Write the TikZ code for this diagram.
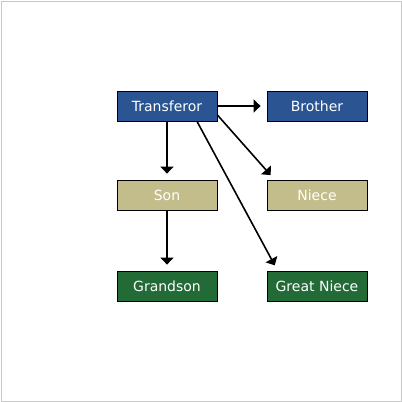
\documentclass[tikz,border=0pt]{standalone}
\usepackage{fontspec}
\setmainfont{DejaVu Sans}
\usetikzlibrary{arrows.meta}
\definecolor{bblue}{HTML}{2A5592}
\definecolor{btan}{HTML}{C3BD8B}
\definecolor{bgreen}{HTML}{226B36}
\definecolor{framegray}{HTML}{C8C8C8}
\begin{document}
\begin{tikzpicture}[x=1pt,y=-1pt,
  box/.style={draw=black,line width=0.8pt,minimum width=100pt,minimum height=30pt,inner sep=0pt,text=white,font=\fontsize{14}{16}\selectfont},
  conn/.style={line width=1.6pt,-{Triangle[length=7pt,width=13pt]},shorten >=6pt}]
\useasboundingbox (0,0) rectangle (402,402);
\draw[framegray,line width=1pt] (1,1) rectangle (401,401);
\node[box,fill=bblue] (tr) at (167,106) {Transferor};
\node[box,fill=bblue] (br) at (317,106) {Brother};
\node[box,fill=btan] (son) at (167,195) {Son};
\node[box,fill=btan] (ni) at (317,195) {Niece};
\node[box,fill=bgreen] (gs) at (167,286) {Grandson};
\node[box,fill=bgreen] (gn) at (317,286) {Great Niece};
\draw[conn] (tr.east) -- (br.west);
\draw[conn] (tr.south) -- (son.north);
\draw[conn] (son.south) -- (gs.north);
\draw[conn] ([yshift=-9pt]tr.east) -- ([xshift=8pt]ni.north west);
\draw[conn] ([xshift=30pt]tr.south) -- ([xshift=11pt]gn.north west);
\end{tikzpicture}
\end{document}
